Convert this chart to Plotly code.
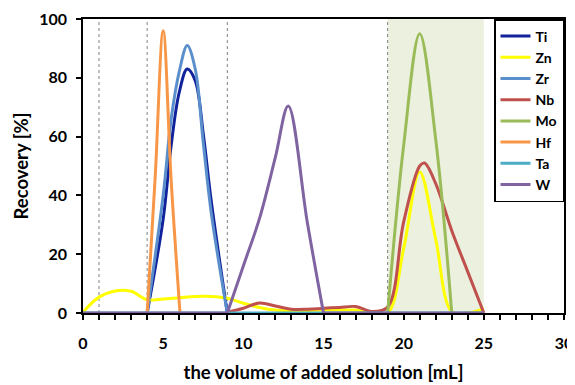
import plotly.graph_objects as go

# Each element: volumes (mL) and recovery (%)
ti_x = [4, 5, 5.5, 6, 6.5, 7, 7.5, 8, 9]
ti_y = [0, 32, 57, 75, 83, 79, 61, 38, 0]

zr_x = [4, 5, 5.5, 6, 6.5, 7, 7.5, 8, 9]
zr_y = [0, 40, 66, 82, 91, 83, 58, 34, 0]

hf_x = [4, 4.5, 5, 5.5, 6.05]
hf_y = [0, 46, 96, 45, 0]

mo_x = [19, 20, 21, 22, 23]
mo_y = [0, 57, 95, 59, 0]

zn_x = list(range(0, 26))
zn_y = [0.3, 5.4, 7.5, 7.4, 4.5, 4.8, 5.2, 5.6, 5.6, 5.0, 3.3, 1.9, 1.0, 0.8, 0.8, 1.0,
        1.0, 1.0, 0.2, 0, 22, 48, 25, 0.5, 0, 1.5]

nb_x = [9, 10, 11, 12, 13, 14, 15, 16, 17, 18, 19, 20, 21, 21.3, 22, 23, 24, 25]
nb_y = [0.3, 1.6, 3.4, 2.4, 1.3, 1.3, 1.6, 1.9, 2.2, 0.5, 2.0, 31, 50, 51, 44, 28, 14, 0]

ta_x = [0, 25]
ta_y = [0, 0]

# W: baseline, elution peak, baseline (gaps separate the pieces)
w_x = [0, 9, None, 9, 10, 11, 12, 12.8, 14, 15, None, 15, 25]
w_y = [0, 0, None, 0, 16, 32, 53, 70.4, 30.5, 0, None, 0, 0]

names = ["Ti", "Zn", "Zr", "Nb", "Mo", "Hf", "Ta", "W"]
xs = [ti_x, zn_x, zr_x, nb_x, mo_x, hf_x, ta_x, w_x]
ys = [ti_y, zn_y, zr_y, nb_y, mo_y, hf_y, ta_y, w_y]
colors = ["#10229C", "#FFFF00", "#5B8FCB", "#C0504D", "#9BBB59", "#F79646", "#4BACC6", "#8064A2"]

fractions = [1, 4, 9, 19]
shade = [19, 25]

x_ticks = [0, 5, 10, 15, 20, 25, 30]
y_ticks = [0, 20, 40, 60, 80, 100]

FONT = "Lato"

fig = go.Figure()
for name, xv, yv, col in zip(names, xs, ys, colors):
    fig.add_trace(go.Scatter(
        x=xv, y=yv, name=name, mode="lines", connectgaps=False,
        line=dict(color=col, width=3, shape="spline", smoothing=1),
    ))

fig.add_shape(type="rect", xref="x", yref="y", x0=shade[0], x1=shade[1], y0=0, y1=100,
              fillcolor="#EBF1DE", line=dict(width=0), layer="below")
for xv in fractions:
    fig.add_shape(type="line", xref="x", yref="y", x0=xv, x1=xv, y0=0, y1=100,
                  line=dict(color="#808080", width=1, dash="dot"), layer="below")

# the page body adds an 8 px margin, so the figure is sized to fit the window
fig.update_layout(
    width=567, height=377,
    margin=dict(l=75, r=11, t=11, b=72),
    paper_bgcolor="white", plot_bgcolor="white",
    font=dict(family=FONT, color="black", weight="bold"),
    showlegend=True,
    legend=dict(x=1, y=1, xanchor="right", yanchor="top",
                bordercolor="black", borderwidth=1.5, bgcolor="white",
                font=dict(family=FONT, size=14, weight="bold", color="black"),
                itemwidth=30, tracegroupgap=0),
)
fig.update_xaxes(
    range=[0, 30], tickvals=x_ticks, showgrid=False, zeroline=False, automargin=False,
    showline=True, linecolor="black", linewidth=1.5, mirror=True,
    ticks="outside", ticklen=5, tickwidth=1.5, tickcolor="black",
    minor=dict(dtick=1, ticks="outside", ticklen=5, tickwidth=1.5, tickcolor="black", showgrid=False),
    tickfont=dict(family=FONT, size=16, weight="bold"), ticklabelstandoff=10,
    title=dict(text="the volume of added solution [mL]", font=dict(family=FONT, size=18.5, weight="bold"), standoff=15),
)
fig.update_yaxes(
    range=[0, 100], tickvals=y_ticks, showgrid=False, zeroline=False, automargin=False,
    showline=True, linecolor="black", linewidth=1.5, mirror=True,
    ticks="outside", ticklen=5, tickwidth=1.5, tickcolor="black",
    tickfont=dict(family=FONT, size=16, weight="bold"), ticklabelstandoff=6,
    title=dict(text="Recovery [%]", font=dict(family=FONT, size=18.5, weight="bold"), standoff=6),
)

fig.write_html("out.html")
